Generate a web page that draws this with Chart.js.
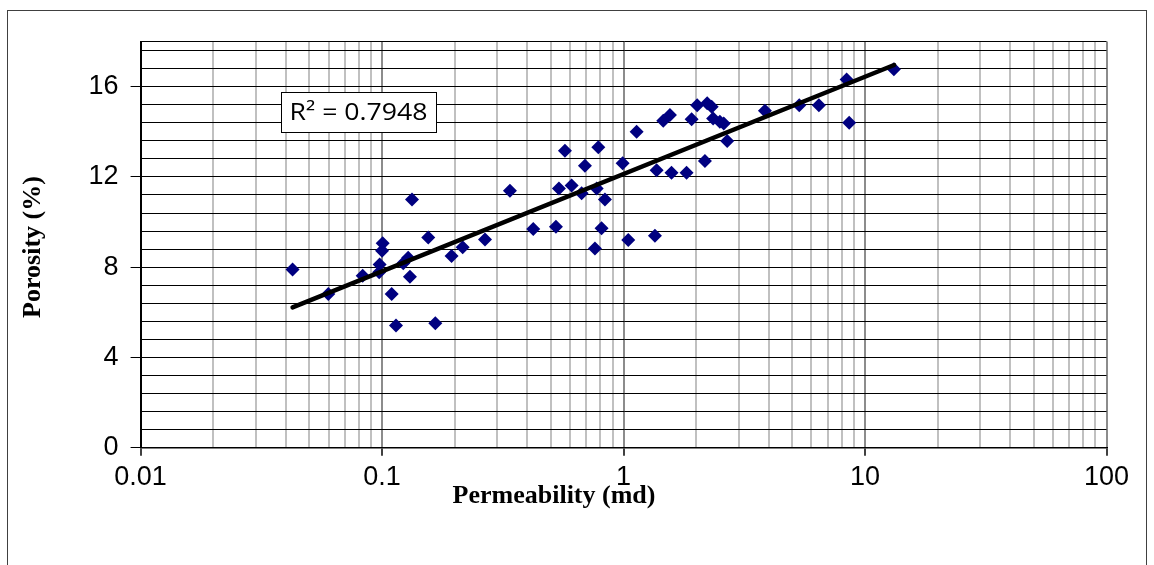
<!DOCTYPE html>
<html>
<head>
<meta charset="utf-8">
<script src="https://cdn.jsdelivr.net/npm/chart.js@4.4.1/dist/chart.umd.min.js"></script>
<style>
  html, body { margin: 0; padding: 0; background: #fff; }
  #wrap { width: 1154px; height: 565px; }
</style>
</head>
<body>
<div id="wrap"><canvas id="chart" width="1154" height="565"></canvas></div>
<script>
// Core sample data
const permeability = [
  0.0426, 0.0599, 0.0831, 0.0973, 0.0977, 0.1006, 0.100, 0.1096, 0.1142, 0.1224,
  0.1283, 0.1304, 0.133, 0.1553, 0.1661, 0.194, 0.2157, 0.2668, 0.3385, 0.4227,
  0.5249, 0.540, 0.6095, 0.572, 0.6706, 0.692, 0.786, 0.774, 0.8375, 0.811,
  0.7613, 0.991, 1.046, 1.133, 1.349, 1.371, 1.460, 1.556, 1.58, 1.824,
  1.914, 2.018, 2.22, 2.317, 2.173, 2.35, 2.506, 2.60, 2.686, 3.85,
  5.34, 6.44, 8.39, 8.6, 13.17
];
const porosity = [
  7.90, 6.81, 7.62, 7.77, 8.12, 9.06, 8.73, 6.81, 5.42, 8.17,
  8.42, 7.58, 11.0, 9.32, 5.51, 8.49, 8.88, 9.23, 11.39, 9.69,
  9.79, 11.49, 11.62, 13.16, 11.27, 12.49, 13.31, 11.49, 11.0, 9.72,
  8.83, 12.6, 9.2, 14.0, 9.39, 12.3, 14.49, 14.74, 12.18, 12.18,
  14.55, 15.18, 15.26, 15.11, 12.7, 14.59, 14.44, 14.37, 13.59, 14.93,
  15.18, 15.18, 16.32, 14.4, 16.77
];

// Logarithmic trendline end points (straight on a log x axis)
const trendX = [0.0426, 13.2];
const trendY = [6.22, 16.96];
const rSquaredText = 'R\u00B2 = 0.7948';

// Axis tick labels
const xTickLabels = [0.01, 0.1, 1, 10, 100];
const yTickLabels = [0, 4, 8, 12, 16];
const yMinorStep = 0.8;
const yMax = 18;

const toPoints = (xs, ys) => xs.map((x, i) => ({ x: x, y: ys[i] }));

function isDecade(v) {
  return xTickLabels.some(d => Math.abs(d - v) < d * 1e-6);
}

// Extra drawing: outer frame, axis titles, R² box
const decorPlugin = {
  id: 'decor',
  afterDraw(chart) {
    const ctx = chart.ctx;
    ctx.save();
    ctx.strokeStyle = '#404040';
    ctx.lineWidth = 1;
    ctx.strokeRect(7.5, 10.5, 1139, 600);

    ctx.fillStyle = '#000';
    ctx.font = 'bold 26px "Liberation Serif", "Times New Roman", serif';
    ctx.textAlign = 'center';
    ctx.textBaseline = 'middle';
    ctx.fillText('Permeability (md)', 554, 496);

    ctx.save();
    ctx.translate(33, 247);
    ctx.rotate(-Math.PI / 2);
    ctx.fillText('Porosity (%)', 0, 0);
    ctx.restore();

    ctx.fillStyle = '#fff';
    ctx.fillRect(281, 92, 155, 40);
    ctx.strokeStyle = '#000';
    ctx.strokeRect(281.5, 92.5, 155, 40);
    ctx.fillStyle = '#000';
    ctx.font = '24px "Open Sans", "Liberation Sans", sans-serif';
    const w = ctx.measureText(rSquaredText).width;
    ctx.translate(358.5, 113);
    ctx.scale(138 / w, 1);
    ctx.fillText(rSquaredText, 0, 0);
    ctx.restore();
  }
};

new Chart(document.getElementById('chart'), {
  data: {
    datasets: [
      {
        type: 'scatter',
        label: 'Trend',
        data: toPoints(trendX, trendY),
        showLine: true,
        borderColor: '#000',
        borderWidth: 4.5,
        borderCapStyle: 'round',
        pointRadius: 0,
        order: 0
      },
      {
        type: 'scatter',
        label: 'Porosity',
        data: toPoints(permeability, porosity),
        pointStyle: 'rectRot',
        pointRadius: 7,
        pointBackgroundColor: '#000080',
        pointBorderColor: '#000080',
        pointBorderWidth: 0,
        order: 1
      }
    ]
  },
  options: {
    responsive: false,
    animation: false,
    devicePixelRatio: 1,
    layout: { padding: { left: 0, top: 41.5, right: 47.5, bottom: 0 } },
    plugins: {
      legend: { display: false },
      tooltip: { enabled: false }
    },
    scales: {
      x: {
        type: 'logarithmic',
        position: 'bottom',
        min: 0.01,
        max: 100,
        afterBuildTicks(scale) {
          const ticks = [];
          for (let p = -2; p <= 1; p++) {
            for (let m = 1; m <= 9; m++) {
              ticks.push({ value: parseFloat((m * Math.pow(10, p)).toPrecision(6)) });
            }
          }
          ticks.push({ value: 100 });
          scale.ticks = ticks;
        },
        afterFit(scale) { scale.height = 117.3; },
        ticks: {
          autoSkip: false,
          maxRotation: 0,
          padding: 6,
          color: '#000',
          font: { family: '"Liberation Sans", Arial, sans-serif', size: 27 },
          callback: (v) => isDecade(v) ? String(v) : ''
        },
        grid: {
          color: (c) => isDecade(c.tick.value) ? '#8c8c8c' : '#c0c0c0',
          lineWidth: 2,
          tickLength: 8,
          tickColor: (c) => isDecade(c.tick.value) ? '#000' : 'rgba(0,0,0,0)',
          tickWidth: 1.5
        },
        border: { color: '#000', width: 1.5 }
      },
      y: {
        type: 'linear',
        min: 0,
        max: yMax,
        afterBuildTicks(scale) {
          const ticks = [];
          for (let k = 0; k * yMinorStep < yMax - 0.01; k++) {
            ticks.push({ value: Math.round(k * yMinorStep * 10) / 10 });
          }
          ticks.push({ value: yMax });
          scale.ticks = ticks;
        },
        afterFit(scale) { scale.width = 140.6; },
        ticks: {
          autoSkip: false,
          padding: 12,
          color: '#000',
          font: { family: '"Liberation Sans", Arial, sans-serif', size: 27 },
          callback: (v) => yTickLabels.includes(v) ? String(v) : ''
        },
        grid: {
          color: '#000',
          lineWidth: 1,
          tickLength: 10,
          tickColor: (c) => yTickLabels.includes(c.tick.value) ? '#000' : 'rgba(0,0,0,0)'
        },
        border: { color: '#000', width: 2 }
      }
    }
  },
  plugins: [decorPlugin]
});
</script>
</body>
</html>
